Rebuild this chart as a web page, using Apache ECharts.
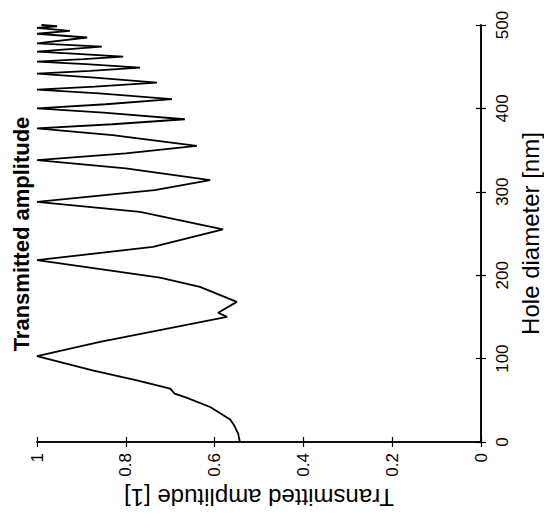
<!DOCTYPE html>
<html>
<head>
<meta charset="utf-8">
<script src="https://cdn.jsdelivr.net/npm/echarts@6/dist/echarts.min.js"></script>
<style>
html,body{margin:0;padding:0;background:#fff;}
#chart{width:544px;height:516px;}
</style>
</head>
<body>
<div id="chart"></div>
<script>
// Hole diameter [nm]
const diameter = [0, 10, 20, 27, 42, 53, 58, 64, 74, 86, 103,
  120, 150, 155, 168, 186, 197, 208, 218,
  234, 255, 276, 288,
  302, 314, 328, 338,
  346, 355, 368, 376,
  381, 387, 395, 400,
  405, 411, 418, 422.5,
  426, 431, 437, 441.6,
  445, 449, 453, 456,
  459, 462, 465, 468,
  474, 478, 485, 489.5, 493, 496.5, 498.5, 500];
// Transmitted amplitude [1]
const amplitude = [0.543, 0.547, 0.556, 0.565, 0.61, 0.662, 0.69, 0.70, 0.775, 0.875, 1.0,
  0.858, 0.572, 0.592, 0.55, 0.633, 0.723, 0.865, 1.0,
  0.739, 0.581, 0.768, 1.0,
  0.735, 0.61, 0.80, 1.0,
  0.80, 0.64, 0.83, 1.0,
  0.83, 0.667, 0.85, 1.0,
  0.845, 0.696, 0.86, 1.0,
  0.87, 0.73, 0.87, 1.0,
  0.88, 0.768, 0.89, 1.0,
  0.895, 0.806, 0.90, 1.0,
  0.854, 1.0, 0.887, 1.0, 0.926, 1.0, 0.955, 0.99];
const amplitudeTicks = [0, 0.2, 0.4, 0.6, 0.8, 1];
const diameterTicks = [0, 100, 200, 300, 400, 500];
const titleText = 'Transmitted amplitude';
const ampName = 'Transmitted amplitude [1]';
const diaName = 'Hole diameter [nm]';

const FONT = '"Liberation Sans", Arial, Helvetica, sans-serif';
const points = diameter.map((d, i) => [amplitude[i], d]);

const ampAxisBase = {
  type: 'value',
  inverse: true,
  min: amplitudeTicks[0],
  max: amplitudeTicks[amplitudeTicks.length - 1],
  interval: amplitudeTicks[1] - amplitudeTicks[0],
  axisLine: {show: true, lineStyle: {color: '#000', width: 1.6}},
  axisTick: {show: true, inside: true, length: 5, lineStyle: {color: '#000', width: 1.2}},
  splitLine: {show: false}
};
const diaAxisBase = {
  type: 'value',
  min: diameterTicks[0],
  max: diameterTicks[diameterTicks.length - 1],
  interval: diameterTicks[1] - diameterTicks[0],
  axisLine: {show: true, lineStyle: {color: '#000', width: 1.6}},
  axisTick: {show: true, inside: true, length: 5, lineStyle: {color: '#000', width: 1.2}},
  splitLine: {show: false}
};

const chart = echarts.init(document.getElementById('chart'), null, {renderer: 'svg'});
chart.setOption({
  animation: false,
  backgroundColor: '#fff',
  grid: {left: 37, right: 63, top: 25, bottom: 74, containLabel: false, outerBoundsMode: 'none'},
  xAxis: [
    Object.assign({}, ampAxisBase, {
      position: 'bottom',
      name: ampName,
      nameLocation: 'middle',
      nameRotate: 180,
      nameGap: 43,
      nameTextStyle: {fontFamily: FONT, fontSize: 24, color: '#000'},
      axisLabel: {show: true, rotate: 90, margin: 11, fontFamily: FONT, fontSize: 17, color: '#000'}
    }),
    Object.assign({}, ampAxisBase, {
      position: 'top',
      axisLabel: {show: false}
    })
  ],
  yAxis: [
    Object.assign({}, diaAxisBase, {
      position: 'right',
      name: diaName,
      nameLocation: 'middle',
      nameRotate: 90,
      nameGap: 37,
      nameTextStyle: {fontFamily: FONT, fontSize: 24, color: '#000'},
      axisLabel: {show: true, rotate: 90, margin: 13, fontFamily: FONT, fontSize: 17, color: '#000'}
    }),
    Object.assign({}, diaAxisBase, {
      position: 'left',
      axisLabel: {show: false}
    })
  ],
  graphic: [{
    type: 'text',
    x: 21,
    y: 234,
    rotation: Math.PI / 2,
    style: {
      text: titleText,
      fontFamily: FONT,
      fontSize: 22,
      fontWeight: 'bold',
      fill: '#000',
      align: 'center',
      verticalAlign: 'middle'
    }
  }],
  series: [{
    type: 'line',
    xAxisIndex: 0,
    yAxisIndex: 0,
    data: points,
    showSymbol: false,
    symbol: 'none',
    smooth: false,
    lineStyle: {color: '#000', width: 1.8},
    z: 3
  }]
});
</script>
</body>
</html>
